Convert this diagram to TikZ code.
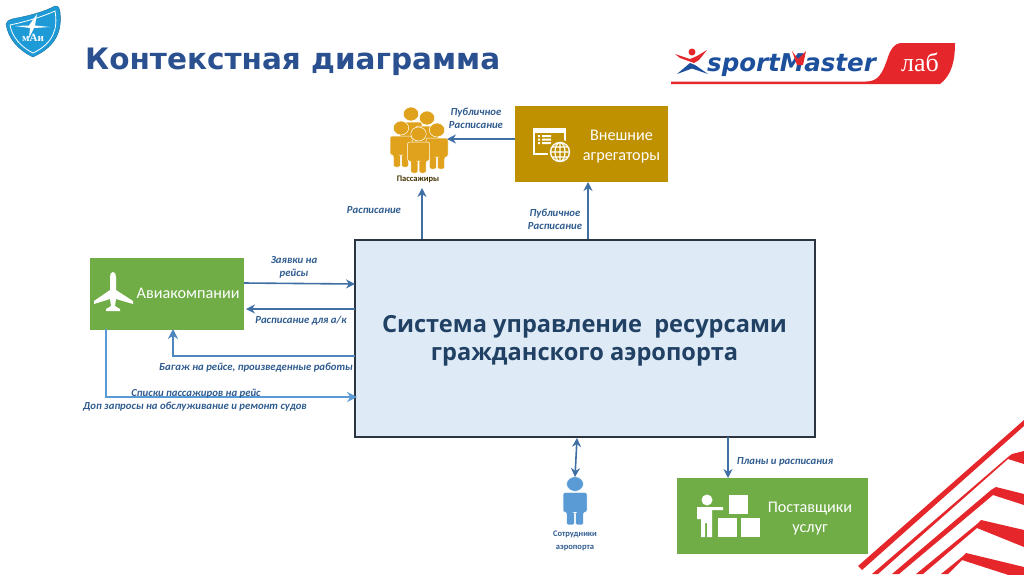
\documentclass[tikz,border=0pt]{standalone}
\usepackage{fontspec}
\setmainfont{Carlito}
\newfontfamily\titlef{DejaVu Sans}
\newfontfamily\mainf{Open Sans}
\newfontfamily\seriff{Liberation Serif}
\usetikzlibrary{arrows.meta}
\definecolor{arrowblue}{HTML}{3F6FA3}
\definecolor{lightblue}{HTML}{5B9BD5}
\definecolor{labelblue}{HTML}{2F5C8F}
\definecolor{titleblue}{HTML}{2A5090}
\definecolor{boxgreen}{HTML}{70AD47}
\definecolor{boxgold}{HTML}{BF9000}
\definecolor{paxgold}{HTML}{E0A21C}
\definecolor{mainfill}{HTML}{DEEAF6}
\definecolor{mainline}{HTML}{2B3440}
\definecolor{sred}{HTML}{E5262B}
\definecolor{sblue}{HTML}{1C4F9C}
\definecolor{maiblue}{HTML}{1E9BD7}
\tikzset{
  arr/.style={draw=arrowblue,line width=1.6pt,-{Stealth[length=9pt,width=9pt]}},
  arrlight/.style={draw=lightblue,line width=1.6pt,-{Stealth[length=10pt,width=10pt]}},
  arrboth/.style={draw=arrowblue,line width=1.6pt,{Stealth[length=9pt,width=9pt]}-{Stealth[length=9pt,width=9pt]}},
  lab/.style={font=\fontsize{10.75}{13}\selectfont\bfseries\itshape,text=labelblue,align=center,inner sep=0pt},
  small/.style={font=\fontsize{8.5}{13}\selectfont\bfseries,align=center,inner sep=0pt},
  boxtext/.style={font=\fontsize{16.2}{20}\selectfont,text=white,align=center,inner sep=0pt},
}
\newcommand{\personshape}[5]{% x y xscale yscale colour
  \begin{scope}[shift={(#1,#2)},xscale=#3,yscale=#4]
    \fill[#5,draw=white,line width=.5pt] (0,0) circle (7);
    \fill[#5,draw=white,line width=.5pt,rounded corners=2pt]
      (-10,8) -- (10,8) -- (10,27) -- (7,27) -- (7,39) -- (.5,39) -- (.5,27) -- (-.5,27) -- (-.5,39) -- (-7,39) -- (-7,27) -- (-10,27) -- cycle;
  \end{scope}}
\begin{document}
\begin{tikzpicture}[x=1pt,y=-1pt]
\useasboundingbox (0,0) rectangle (1024,574);
\fill[white] (0,0) rectangle (1024,574);

% red stripes
\begin{scope}
\clip (0,0) rectangle (1024,574);
\fill[sred] (858,566) -- (1024,420) -- (1024,426) -- (862,570) -- cycle;
\fill[sred] (872,574) -- (1008,457) -- (1012,454) -- (1024,451) -- (1024,464) -- (1008,459) -- (878,574) -- cycle;
\fill[sred] (892,574) -- (991,490) -- (996,487) -- (1024,494) -- (1024,505) -- (993,495) -- (899,574) -- cycle;
\fill[sred] (916,574) -- (977,524) -- (981,520) -- (1024,530) -- (1024,547) -- (977,528) -- (923,574) -- cycle;
\fill[sred] (941,574) -- (962,557) -- (966,553) -- (1024,567) -- (1024,580) -- (962,560) -- (948,574) -- cycle;
\end{scope}

% MAI logo
\fill[maiblue,draw=maiblue!70!black,line width=.4pt] (6,24) .. controls (7,21) and (9,20) .. (12,19) .. controls (28,16) and (44,12) .. (55,6) .. controls (59,6) and (59,8) .. (60,12) .. controls (62,30) and (57,46) .. (33,57) .. controls (18,50) and (8,38) .. (6,24) -- cycle;
\draw[white,line width=.8pt] (10,25) .. controls (24,22) and (42,17) .. (55,11) .. controls (58,28) and (54,43) .. (33,53) .. controls (21,47) and (12,37) .. (10,25) -- cycle;
\fill[white] (15,26) -- (29,25.5) -- (37,14) -- (35,25.5) -- (50,27) -- (34,28) -- (29,38) -- (30,28) -- cycle;
\node[font=\fontsize{11}{11}\selectfont\bfseries\seriff,text=white,inner sep=0pt] (mai) at (33,38) {мАи};

% title
\node[font=\fontsize{29.5}{30}\selectfont\titlef\bfseries,text=titleblue,anchor=base west,inner sep=0pt] (title) at (85,69) {Контекстная диаграмма};

% sportmaster logo
\fill[sred] (671,81.5) -- (866,81.5) .. controls (878,81.5) and (882,74) .. (887,60) .. controls (890,50) and (894,43) .. (902,43) -- (955,43) .. controls (955,60) and (952,75) .. (940,84) -- (671,84) -- cycle;
\fill[sred] (675,54) -- (690,59) -- (697,56) -- (707,50) -- (699,60) -- (694,63) -- (680,58) -- cycle;
\fill[sblue] (677,74) -- (690,63) -- (695,65) -- (708,74) -- (692,68.5) -- cycle;
\fill[sred] (692,52) circle (3.5);
\node[font=\fontsize{24.5}{24.5}\selectfont\titlef\bfseries\itshape,text=sblue,anchor=base west,inner sep=0pt] (sm) at (707,71) {sportMaster};
\fill[sred] (792,51) -- (798,59) -- (806,51) -- (803,65) -- (797,65) -- cycle;
\node[font=\fontsize{26}{26}\selectfont\seriff,text=white,inner sep=0pt] (lab) at (920,62) {лаб};

% main boxes
\node[draw=mainline,fill=mainfill,line width=1.6pt,minimum width=460pt,minimum height=197pt,inner sep=0pt] (main) at (585,338.5) {};
\node[font=\fontsize{23.6}{27.5}\selectfont\mainf\bfseries,text=labelblue!70!black,align=center,inner sep=0pt] (maintext) at (584.5,341) {Система управление\ \ ресурсами\\гражданского аэропорта};

\node[fill=boxgold,minimum width=153pt,minimum height=76pt,inner sep=0pt] (agg) at (591.5,144) {};
\node[boxtext] (aggtext) at (621.5,147) {Внешние\\агрегаторы};

\node[fill=boxgreen,minimum width=154pt,minimum height=72pt,inner sep=0pt] (air) at (167,294) {};
\node[boxtext,anchor=west] (airtext) at (136.5,293) {Авиакомпании};

\node[fill=boxgreen,minimum width=191pt,minimum height=76pt,inner sep=0pt] (sup) at (772.5,516) {};
\node[boxtext] (suptext) at (810,519) {Поставщики\\услуг};

% passengers icon
\personshape{411}{114}{1.1}{1}{paxgold}
\personshape{427}{118}{1.1}{1}{paxgold}
\personshape{401}{128}{1.1}{1}{paxgold}
\personshape{437}{130}{1.1}{1}{paxgold}
\personshape{418.5}{134}{1.1}{1}{paxgold}
\node[small,text=black!65!boxgold] (paxtext) at (418,179) {Пассажиры};
\coordinate (paxin) at (422,188);
\coordinate (paxright) at (447,139);

% employee icon
\personshape{575}{484}{1.2}{1.05}{lightblue}
\node[small,text=labelblue] (emptext) at (575,541) {Сотрудники\\аэропорта};
\coordinate (empin) at (575,477);

% aggregator icon
\fill[white] (533,128) rectangle (566,155);
\fill[boxgold] (535,133) rectangle (564,153);
\fill[white] (538,135) rectangle (540,137) (542,135) rectangle (551,137)
             (538,138.5) rectangle (540,140.5) (542,138.5) rectangle (551,140.5)
             (538,142) rectangle (540,144) (542,142) rectangle (551,144);
\fill[boxgold] (560,152) circle (12.5);
\draw[white,line width=1.4pt] (560,152) circle (9.5) (550,152) -- (570,152) (552,147) -- (568,147) (552,157) -- (568,157) (560,142) -- (560,162);
\draw[white,line width=1.2pt] (560,152) ellipse (5 and 9.5);

% airplane icon
\fill[white] (113,272) .. controls (115,272) and (116,274) .. (116,277) -- (116,290) -- (133,301) -- (133,304) -- (116,299) -- (115,306) -- (120,309) -- (120,311) -- (106,311) -- (106,309) -- (111,306) -- (110,299) -- (94,304) -- (94,301) -- (110,290) -- (110,277) .. controls (110,274) and (111,272) .. (113,272) -- cycle;

% supplier icon
\fill[white] (707,500) circle (5.5);
\fill[white] (697,507) -- (723,507) -- (723,510) -- (712,510) -- (712,537) -- (707,537) -- (707,523) -- (705,523) -- (705,537) -- (701,537) -- (701,519) -- (697,519) -- cycle;
\fill[white] (729,495) rectangle (748,513.5);
\fill[white] (718,518) rectangle (737,537);
\fill[white] (741,518) rectangle (760,537);

% connectors
\draw[arr] (main.north -| paxin) -- (paxin);
\coordinate (aggin) at (588,182);
\draw[arr] (main.north -| aggin) -- (aggin);
\draw[arr] (agg.west |- paxright) -- (paxright);
\coordinate (airout) at (244,283);
\coordinate (airin) at (246,309);
\coordinate (mainA) at (355,284);
\coordinate (mainB) at (355,309);
\draw[arr] (airout) -- (mainA);
\draw[arr] (mainB) -- (airin);
\coordinate (mainC) at (355,356);
\coordinate (airC) at (173,329);
\draw[arrlight,draw=arrowblue!50!lightblue] (mainC) -- (airC |- mainC) -- (airC);
\coordinate (airD) at (106,329);
\coordinate (mainD) at (357,397);
\draw[arrlight] (airD) -- (airD |- mainD) -- (mainD);
\coordinate (mainE) at (577,438);
\draw[arrboth] (mainE) -- (empin);
\coordinate (mainF) at (728,437);
\coordinate (supin) at (728,478);
\draw[arr] (mainF) -- (supin);

% connector labels
\node[lab] (l1) at (476,118.5) {Публичное\\Расписание};
\node[lab] (l2) at (374,210) {Расписание};
\node[lab] (l3) at (555,219) {Публичное\\Расписание};
\node[lab] (l4) at (294,267) {Заявки на\\рейсы};
\node[lab] (l5) at (301,321) {Расписание для а/к};
\node[lab] (l6) at (256,368) {Багаж на рейсе, произведенные работы};
\node[lab] (l7) at (196,394) {Списки пассажиров на рейс};
\node[lab] (l8) at (195,407) {Доп запросы на обслуживание и ремонт судов};
\node[lab] (l9) at (785,461.5) {Планы и расписания};
\end{tikzpicture}
\end{document}
